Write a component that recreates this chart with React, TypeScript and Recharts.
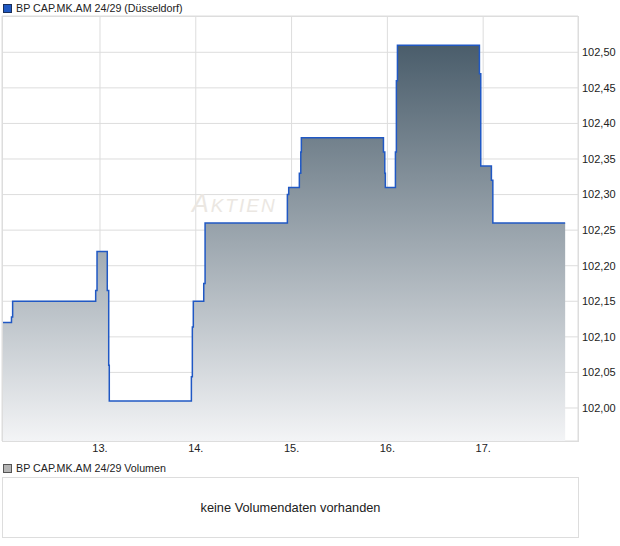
import React from "react"
import { Area, CartesianGrid, ComposedChart, Line, XAxis, YAxis } from "recharts"

// time in days (day of month + fraction), price in EUR
const times = [
  11.977, 12.076, 12.088, 12.955, 12.969, 13.076, 13.091, 13.097, 13.954, 13.964, 13.974, 14.083, 14.097,
  14.956, 14.97, 15.081, 15.096, 15.102, 15.959, 15.973, 15.979, 16.084, 16.094, 16.105, 16.961, 16.975,
  17.086, 17.101, 17.856,
]
const prices = [
  102.12, 102.128, 102.15, 102.165, 102.22, 102.165, 102.06, 102.01, 102.044, 102.114, 102.15, 102.175, 102.26,
  102.3, 102.31, 102.33, 102.36, 102.38, 102.36, 102.33, 102.31, 102.36, 102.46, 102.51, 102.47, 102.34,
  102.32, 102.26, 102.26,
]
const dayTicks = [13, 14, 15, 16, 17]
const priceTicks = [102.0, 102.05, 102.1, 102.15, 102.2, 102.25, 102.3, 102.35, 102.4, 102.45, 102.5]

const data = times.map((t, i) => ({ t, price: prices[i] }))

const font = "'Liberation Sans', Arial, sans-serif"

export default function App() {
  return (
    <div style={{ position: "absolute", left: 0, top: 0, width: 620, height: 546, background: "#fff", fontFamily: font }}>
      {/* price legend */}
      <div style={{ position: "absolute", left: 3, top: 2, display: "flex", alignItems: "center", fontSize: 10.7, color: "#222" }}>
        <span style={{ width: 7, height: 7, background: "#1f58c2", border: "1px solid #1a2f5a", marginRight: 4 }} />
        BP CAP.MK.AM 24/29 (Düsseldorf)
      </div>

      <div style={{ position: "absolute", left: 0, top: 0 }}>
        <ComposedChart width={620} height={460} data={data} margin={{ top: 16, right: 0, bottom: 0, left: 2 }}>
          <defs>
            <linearGradient id="priceFill" x1="0" y1="0" x2="0" y2="1">
              <stop offset="0%" stopColor="#4a5d6b" />
              <stop offset="100%" stopColor="#f3f4f6" />
            </linearGradient>
          </defs>
          <CartesianGrid stroke="#dddddd" strokeWidth={1} />
          <XAxis
            dataKey="t"
            type="number"
            domain={[11.977, 17.99]}
            ticks={dayTicks}
            tickFormatter={(v) => `${v}.`}
            axisLine={false}
            tickLine={false}
            tickSize={0}
            tickMargin={3}
            height={19}
            tick={{ fontSize: 11, fill: "#222", fontFamily: font }}
            allowDataOverflow
          />
          <YAxis
            orientation="right"
            type="number"
            domain={[101.9536, 102.551]}
            ticks={priceTicks}
            tickFormatter={(v) => v.toFixed(2).replace(".", ",")}
            axisLine={false}
            tickLine={false}
            tickSize={0}
            tickMargin={4}
            width={42}
            tick={{ fontSize: 11, fill: "#222", fontFamily: font, textAnchor: "start" }}
            allowDataOverflow
          />
          <Area
            type="stepAfter"
            dataKey="price"
            stroke="none"
            fill="url(#priceFill)"
            fillOpacity={1}
            isAnimationActive={false}
          />
          <Line
            type="stepAfter"
            dataKey="price"
            stroke="#2058c4"
            strokeWidth={1.5}
            dot={false}
            activeDot={false}
            isAnimationActive={false}
          />
        </ComposedChart>
      </div>

      {/* plot border */}
      <div style={{ position: "absolute", left: 2, top: 16, width: 575, height: 424, border: "1px solid #dddddd", pointerEvents: "none" }} />

      {/* watermark */}
      <div
        style={{
          position: "absolute",
          left: 192,
          top: 190,
          fontStyle: "italic",
          letterSpacing: 2,
          color: "#ebe7e2",
          pointerEvents: "none",
          whiteSpace: "nowrap",
          lineHeight: "26px",
        }}
      >
        <span style={{ fontSize: 25 }}>A</span>
        <span style={{ fontSize: 19 }}>KTIEN</span>
      </div>

      {/* volume legend */}
      <div style={{ position: "absolute", left: 3, top: 462, display: "flex", alignItems: "center", fontSize: 10.7, color: "#222" }}>
        <span style={{ width: 7, height: 7, background: "#b5b5b5", border: "1px solid #555", marginRight: 4 }} />
        BP CAP.MK.AM 24/29 Volumen
      </div>

      {/* volume panel */}
      <div
        style={{
          position: "absolute",
          left: 2,
          top: 477,
          width: 575,
          height: 59,
          border: "1px solid #dddddd",
          display: "flex",
          alignItems: "center",
          justifyContent: "center",
          fontSize: 12.8,
          color: "#222",
        }}
      >
        keine Volumendaten vorhanden
      </div>
    </div>
  )
}
